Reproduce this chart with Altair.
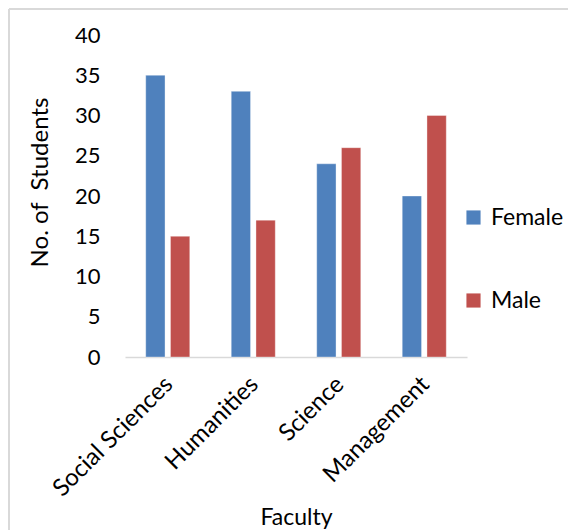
import altair as alt
import pandas as pd

faculties = ["Social Sciences", "Humanities", "Science", "Management"]
female = [35, 33, 24, 20]
male = [15, 17, 26, 30]
genders = ["Female", "Male"]
colors = ["#4F81BD", "#C0504D"]

rows = []
for f, fv, mv in zip(faculties, female, male):
    rows.append({"Faculty": f, "Gender": "Female", "Count": fv})
    rows.append({"Faculty": f, "Gender": "Male", "Count": mv})
df = pd.DataFrame(rows)

FONT = "Lato"

bars = alt.Chart(df).mark_bar(stroke="#ffffff", strokeOpacity=0.35, strokeWidth=1).encode(
    x=alt.X("Faculty:N", sort=faculties, title="Faculty",
            scale=alt.Scale(paddingInner=0.485, paddingOuter=0.2425),
            axis=alt.Axis(labelAngle=-45, labelFontSize=24, titleFontSize=23,
                          labelFont=FONT, titleFont=FONT, labelColor="#000000",
                          titleColor="#000000", ticks=False, domainColor="#d9d9d9",
                          domainWidth=1.5, labelPadding=15, labelOffset=-7,
                          titleX=171, titleY=160, titleAlign="center",
                          titleBaseline="middle", titleFontWeight="normal")),
    xOffset=alt.XOffset("Gender:N", sort=genders, scale=alt.Scale(paddingInner=0.22)),
    y=alt.Y("Count:Q", title="No. of\u00a0 Students",
            scale=alt.Scale(domain=[0, 40], nice=False),
            axis=alt.Axis(values=[0, 5, 10, 15, 20, 25, 30, 35, 40], grid=False,
                          domain=False, ticks=False, labelFontSize=22, titleFontSize=24,
                          labelFont=FONT, titleFont=FONT, labelColor="#000000",
                          titleColor="#000000", labelPadding=25,
                          titleX=-85, titleY=147, titleAlign="center",
                          titleBaseline="middle", titleAngle=-90,
                          titleFontWeight="normal")),
    color=alt.Color("Gender:N", sort=genders,
                    scale=alt.Scale(domain=genders, range=colors),
                    legend=alt.Legend(title=None, orient="none", legendX=337, legendY=171,
                                      symbolType="square", symbolSize=200,
                                      symbolStrokeWidth=0, labelFontSize=23,
                                      labelFont=FONT, labelColor="#000000",
                                      rowPadding=59, labelOffset=6)),
)

frame = alt.Data(values=[{"k": 1}])
left_border = alt.Chart(frame).mark_rule(color="#d9d9d9", strokeWidth=2).encode(
    x=alt.value(-116), y=alt.value(-26), y2=alt.value(530)
)
top_border = alt.Chart(frame).mark_rule(color="#d9d9d9", strokeWidth=2).encode(
    x=alt.value(-116), x2=alt.value(568), y=alt.value(-26)
)

chart = alt.layer(bars, left_border, top_border).properties(
    width=342, height=322,
    background="#ffffff",
    autosize=alt.AutoSizeParams(type="none"),
    padding={"left": 125, "top": 35, "right": 101, "bottom": 173},
).configure_view(strokeWidth=0, stroke=None)

chart.save("out.html", embed_options={"renderer": "svg", "actions": False})
